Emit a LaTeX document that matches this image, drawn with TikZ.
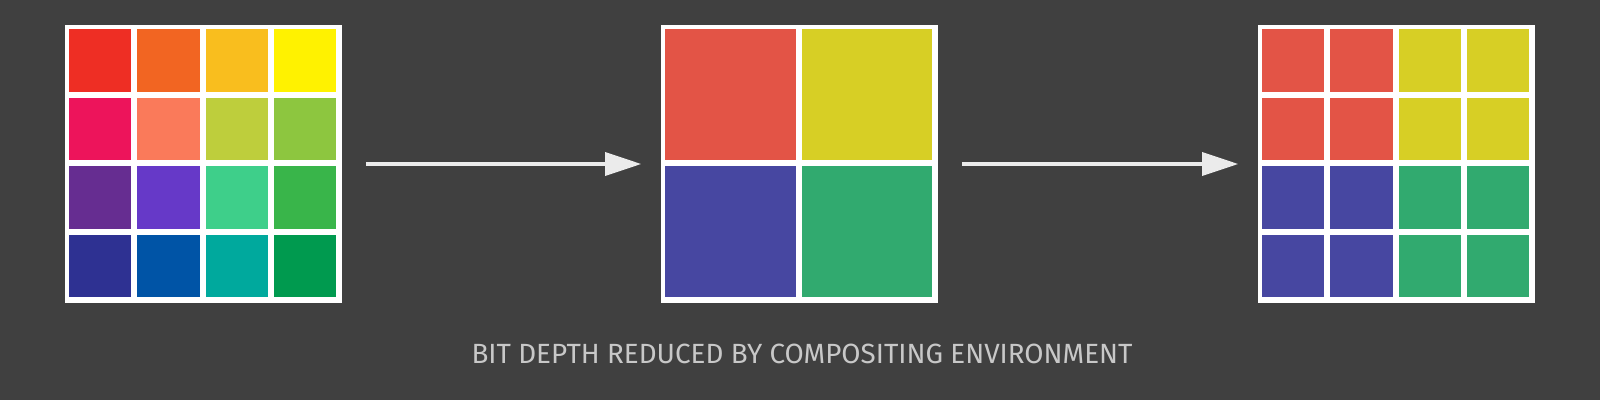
\documentclass[tikz,border=0pt]{standalone}
\usepackage{fontspec}
\setmainfont{Fira Sans}
\usepackage{tikz}
\usetikzlibrary{positioning,arrows.meta}
\definecolor{Slate}{HTML}{404040}
\definecolor{ArrowGray}{HTML}{EBEBEB}
\definecolor{NoteGray}{HTML}{C8C8C8}
% full palette
\definecolor{c1}{HTML}{EE2E24}\definecolor{c2}{HTML}{F26522}
\definecolor{c3}{HTML}{F9BE1E}\definecolor{c4}{HTML}{FFF200}
\definecolor{c5}{HTML}{ED145B}\definecolor{c6}{HTML}{FA7A5A}
\definecolor{c7}{HTML}{BECE3C}\definecolor{c8}{HTML}{8DC63F}
\definecolor{c9}{HTML}{662D91}\definecolor{c10}{HTML}{6639C8}
\definecolor{c11}{HTML}{3ECF8A}\definecolor{c12}{HTML}{39B54A}
\definecolor{c13}{HTML}{2E3192}\definecolor{c14}{HTML}{0054A6}
\definecolor{c15}{HTML}{00A99D}\definecolor{c16}{HTML}{009A4F}
% reduced palette
\definecolor{qR}{HTML}{E35446}\definecolor{qY}{HTML}{D7CF25}
\definecolor{qB}{HTML}{4747A1}\definecolor{qG}{HTML}{31AA6F}

\begin{document}
\begin{tikzpicture}[x=0.01cm,y=-0.01cm,
                    panel/.style={fill=white, inner sep=0pt, minimum width=2.77cm,
                                  minimum height=2.78cm},
                    flow/.style={draw=ArrowGray, line width=0.035cm,
                                 -{Triangle[length=0.36cm,width=0.23cm]},
                                 shorten <=0.23cm, shorten >=0.19cm}]
\fill[Slate] (0,0) rectangle (1600,400);
\useasboundingbox (0,0) rectangle (1600,400);
\node[panel] (orig) at (203.5,164) {};
\node[panel] (quant) at (799.5,164) {};
\node[panel] (back) at (1396.5,164) {};
% 16 colours in
\foreach \c [count=\i from 0] in {c1,c2,c3,c4,c5,c6,c7,c8,c9,c10,c11,c12,c13,c14,c15,c16}
  \fill[\c] ([shift={({5+68.25*mod(\i,4)},{5+68.5*int(\i/4)})}]orig.north west) rectangle ++(62.25,62.5);
% 4 colours
\foreach \c [count=\i from 0] in {qR,qY,qB,qG}
  \fill[\c] ([shift={({5+136.5*mod(\i,2)},{5+137*int(\i/2)})}]quant.north west) rectangle ++(130.5,131);
% 4 colours shown on 16 cells
\foreach \c [count=\i from 0] in {qR,qR,qY,qY,qR,qR,qY,qY,qB,qB,qG,qG,qB,qB,qG,qG}
  \fill[\c] ([shift={({5+68.25*mod(\i,4)},{5+68.5*int(\i/4)})}]back.north west) rectangle ++(62.25,62.5);
\draw[flow] (orig) -- (quant);
\draw[flow] (quant) -- (back);
\node[text=NoteGray, font=\fontsize{7.9}{9}\selectfont] (note) at (802,354)
  {BIT DEPTH REDUCED BY COMPOSITING ENVIRONMENT};
\end{tikzpicture}
\end{document}
